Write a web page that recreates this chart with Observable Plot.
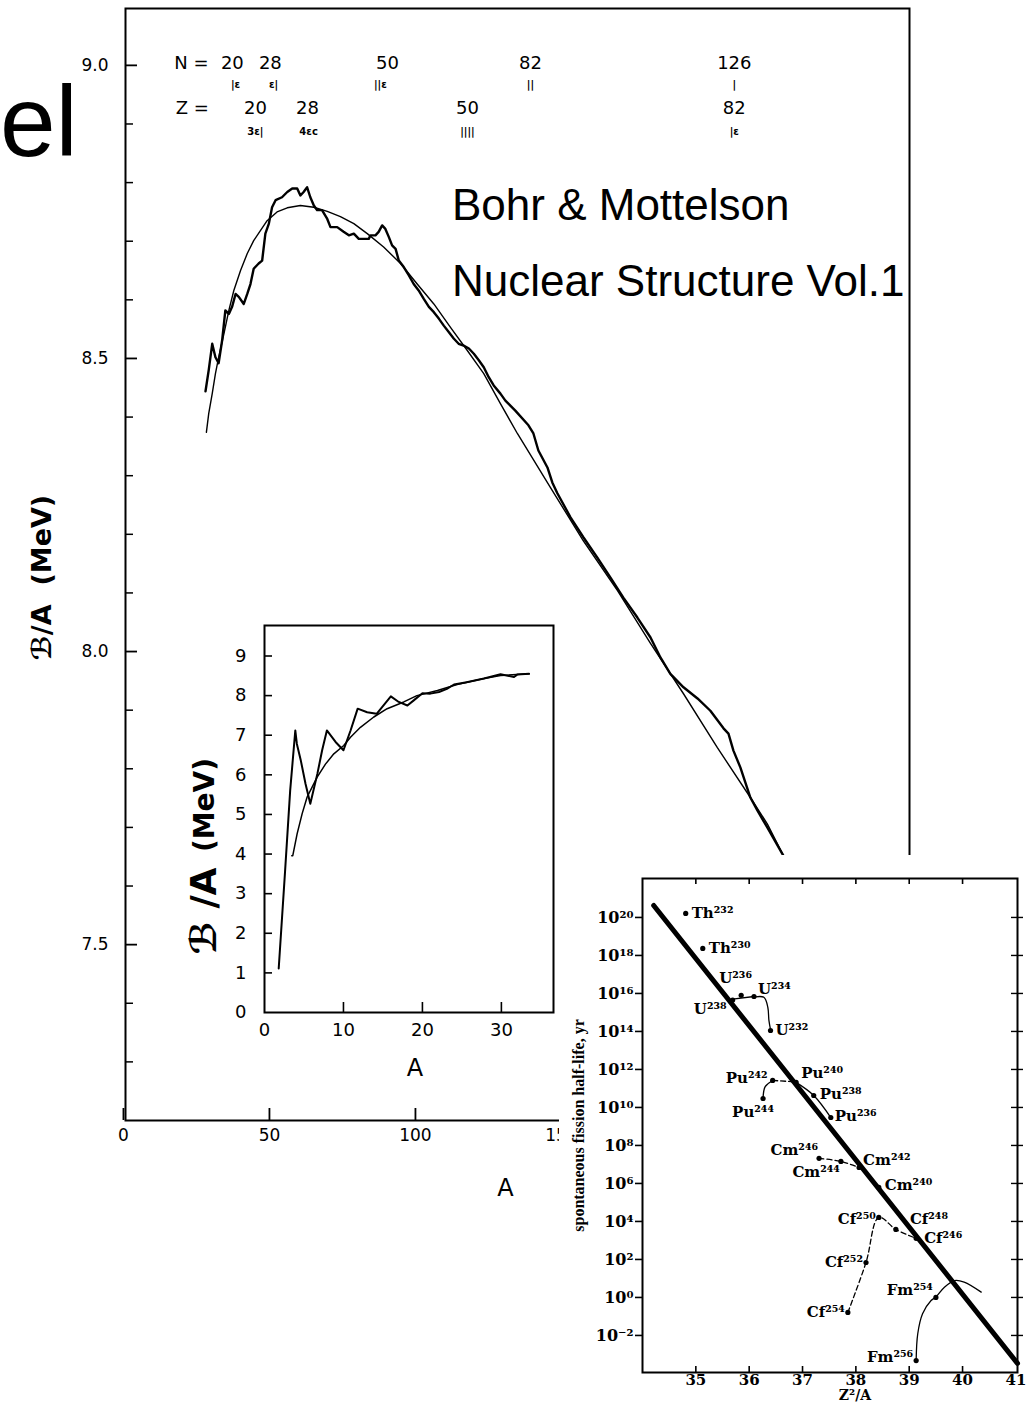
<!DOCTYPE html>
<html><head><meta charset="utf-8">
<script src="https://cdn.jsdelivr.net/npm/d3@7"></script>
<script src="https://cdn.jsdelivr.net/npm/@observablehq/plot@0.6"></script>
<style>
body{margin:0;background:#fff;}
#wrap{position:relative;width:1029px;height:1408px;overflow:hidden;background:#fff;}
#wrap svg{position:absolute;}
.note{position:absolute;font-family:"Liberation Sans",Arial,sans-serif;color:#000;white-space:nowrap;line-height:1;}
</style></head><body><div id="wrap"></div>
<script>
// ---------------- Main chart: binding energy per nucleon vs A ----------------
const mainExpA = [28.1,29.2,30.4,31.5,32.6,33.8,34.9,36.1,37.2,38.4,39.5,41.2,42.4,43.5,44.6,46.3,47.5,48.6,49.8,50.9,52.1,54.3,56.1,57.8,59.5,60.6,61.7,62.9,64.0,65.2,66.3,68.0,69.8,70.9,73.2,75.4,77.2,78.9,80.6,84.0,84.6,86.3,87.4,88.6,89.7,90.9,92.0,93.2,94.3,96.0,97.7,99.4,101.1,102.8,104.6,106.3,108.0,109.7,111.4,113.1,114.8,116.5,118.3,120.0,121.7,123.4,125.1,126.8,129.1,130.8,134.2,138.7,140.4,142.1,145.2,146.9,148.6,153.1,157.5,162.3,166.8,171.2,176.0,180.5,183.9,187.3,191.8,196.6,201.0,205.5,207.2,208.9,211.3,214.7,217.1,220.5,226.0];
const mainExpB = [8.444,8.480,8.525,8.502,8.492,8.531,8.582,8.576,8.588,8.610,8.605,8.593,8.610,8.627,8.653,8.662,8.667,8.713,8.730,8.758,8.770,8.775,8.784,8.790,8.790,8.778,8.784,8.792,8.775,8.761,8.753,8.753,8.738,8.724,8.724,8.716,8.710,8.713,8.704,8.704,8.710,8.710,8.716,8.727,8.721,8.707,8.693,8.687,8.667,8.656,8.642,8.627,8.616,8.602,8.588,8.579,8.568,8.556,8.545,8.534,8.525,8.522,8.517,8.508,8.497,8.485,8.468,8.454,8.440,8.428,8.411,8.386,8.372,8.343,8.314,8.288,8.270,8.229,8.195,8.160,8.126,8.092,8.058,8.024,7.990,7.962,7.939,7.920,7.899,7.869,7.860,7.831,7.802,7.751,7.729,7.700,7.652];
const mainFitA = [28.4,29.2,30.4,31.5,32.6,34.4,36.1,37.8,40.1,42.4,44.6,46.9,49.2,52.6,56.1,60.6,65.2,69.8,74.3,78.9,83.5,89.1,94.9,100.6,106.3,112.0,117.7,123.4,129.1,134.9,146.2,157.5,169.2,180.5,191.8,203.4,214.7,220.5,226.0];
const mainFitB = [8.374,8.406,8.440,8.474,8.502,8.542,8.582,8.616,8.650,8.679,8.701,8.718,8.735,8.750,8.757,8.761,8.758,8.751,8.742,8.730,8.713,8.690,8.662,8.627,8.593,8.553,8.514,8.474,8.423,8.372,8.280,8.189,8.104,8.014,7.928,7.836,7.751,7.706,7.652];
const mainYMajor = [7.5, 8.0, 8.5, 9.0];
const mainYMinor = [7.3, 7.4, 7.6, 7.7, 7.8, 7.9, 8.1, 8.2, 8.3, 8.4, 8.6, 8.7, 8.8, 8.9];
const mainXTicks = [0, 50, 100, 150, 200, 250];
// magic-number annotations
const magicNLabels = ["N =", "20", "28", "50", "82", "126"];
const magicNA = [23.3, 37.3, 50.3, 90.4, 139.4, 209.2];
const magicNMarks = ["|ε", "ε|", "||ε", "||", "|"];
const magicNMarkA = [38.4, 51.4, 88.0, 139.4, 209.2];
const magicZLabels = ["Z =", "20", "28", "50", "82"];
const magicZA = [23.6, 45.2, 63.0, 117.8, 209.2];
const magicZMarks = ["3ε|", "4εc", "||||", "|ε"];
const magicZMarkA = [45.2, 63.4, 117.8, 209.2];
const magicRowB = [9.003, 8.966, 8.927, 8.886];

// ---------------- Inset 1: light nuclei ----------------
const inExpA = [1.8,2.6,3.25,3.9,4.1,4.6,5.2,5.8,6.7,7.3,7.9,9.0,10.0,10.9,11.8,13.0,14.2,16.0,17.0,18.1,18.9,20.0,21.0,22.1,23.1,24.0,25.6,27.8,29.9,31.6,32.0,33.5];
const inExpB = [1.11,3.55,5.6,7.12,6.78,6.36,5.77,5.27,6.03,6.62,7.12,6.83,6.62,7.12,7.67,7.58,7.54,7.98,7.84,7.75,7.88,8.06,8.05,8.09,8.17,8.28,8.34,8.43,8.54,8.47,8.53,8.55];
const inFitA = [3.45,3.58,4.13,4.77,5.40,6.03,6.67,7.72,8.78,10.04,10.89,12.15,13.84,15.53,17.64,19.3,21.9,24.4,27.8,29.9,33.5];
const inFitB = [3.96,3.96,4.51,5.02,5.44,5.69,5.94,6.27,6.53,6.74,6.95,7.2,7.46,7.67,7.84,8.0,8.13,8.28,8.43,8.51,8.55];
const inYTicks = [0,1,2,3,4,5,6,7,8,9];
const inXTicks = [0,10,20,30];

// ---------------- Inset 2: spontaneous fission half-life ----------------
const fisLineX = [34.21, 41.03];
const fisLineLog = [20.63, -3.47];
const nucElem = ["Th","Th","U","U","U","U","Pu","Pu","Pu","Pu","Pu","Cm","Cm","Cm","Cm","Cf","Cf","Cf","Cf","Cf","Fm","Fm"];
const nucMass = [232,230,238,236,234,232,242,240,238,236,244,246,244,242,240,250,248,246,252,254,254,256];
const nucX = [34.81,35.13,35.69,35.85,36.09,36.40,36.44,36.88,37.21,37.53,36.26,37.31,37.72,38.06,38.43,38.43,38.75,39.13,38.19,37.85,39.50,39.13];
const nucLog = [20.21,18.37,15.65,15.9,15.84,14.05,11.42,11.32,10.63,9.47,10.47,7.32,7.16,6.84,5.79,4.21,3.58,3.11,1.84,-0.79,0.0,-3.32];
const linkU = {x:[35.69,36.09], y:[15.7,15.84]};
const linkU2 = {x:[36.12,36.28,36.35,36.37,36.40], y:[15.82,15.79,15.26,14.58,14.1]};
const linkPu = {x:[36.44,36.85], y:[11.42,11.35]};
const linkPu2 = {x:[36.26,36.30,36.42], y:[10.5,11.1,11.38]};
const linkPu3 = {x:[36.88,37.21,37.53], y:[11.32,10.63,9.47]};
const linkCm = {x:[37.31,37.72,38.06], y:[7.32,7.16,6.84]};
const linkCf = {x:[37.85,38.19,38.43,38.75,39.13], y:[-0.79,1.84,4.21,3.58,3.11]};
const linkFm = {x:[39.13,39.16,39.25,39.41,39.50,39.66,39.85,40.03,40.35], y:[-3.32,-1.91,-0.86,-0.16,0.02,0.54,0.89,0.81,0.28]};
const fisXTicks = [35,36,37,38,39,40,41];
const fisYTicks = [-2,0,2,4,6,8,10,12,14,16,18,20];

// label placement (style only): [textAnchor, dx, dy]
const labelPlace = [["start",6,0],["start",6,0],["end",-6,9],["start",-22,-17],["start",4,-7],["start",5,0],
  ["end",-5,-2],["start",5,-9],["start",6,-1],["start",4,-1],["middle",-10,14],
  ["end",-1,-8],["end",-1,11],["start",4,-7],["start",6,-2],
  ["end",-3,2],["start",14,-10],["start",8,0],["end",-3,0],["end",-3,0],["end",-3,-7],["end",-3,-3]];

const supMap = {"0":"⁰","1":"¹","2":"²","3":"³","4":"⁴","5":"⁵","6":"⁶","7":"⁷","8":"⁸","9":"⁹","-":"⁻"};
const toSup = s => String(s).split("").map(c => supMap[c]).join("");
const zip = (xs, ys, kx, ky) => xs.map((v, i) => ({[kx]: v, [ky]: ys[i]}));

const wrap = document.getElementById("wrap");

// ---------- main ----------
{
  const W = 1029, H = 1220, mL = 125, mR = 120, mT = 8, mB = 100;
  const iW = W - mL - mR, iH = H - mT - mB;
  const exp = zip(mainExpA, mainExpB, "A", "B");
  const fit = zip(mainFitA, mainFitB, "A", "B");
  const sans = "DejaVu Sans, sans-serif";
  const svg = Plot.plot({
    width: W, height: H, marginLeft: mL, marginRight: mR, marginTop: mT, marginBottom: mB,
    x: {domain: [0.7, 269.2], axis: null},
    y: {domain: [7.2, 9.097], axis: null},
    style: {fontFamily: sans, background: "transparent", overflow: "visible", color: "black"},
    marks: [
      Plot.ruleY(mainYMajor, {y: d => d, insetRight: iW - 12, strokeWidth: 1.8}),
      Plot.ruleY(mainYMinor, {y: d => d, insetRight: iW - 8, strokeWidth: 1.5}),
      Plot.ruleX(mainXTicks, {x: d => d, insetTop: iH - 12, strokeWidth: 1.8}),
      Plot.frame({stroke: "black", strokeWidth: 2}),
      Plot.line(fit, {x: "A", y: "B", stroke: "black", strokeWidth: 1.4}),
      Plot.line(exp, {x: "A", y: "B", stroke: "black", strokeWidth: 2.4}),
      Plot.text(mainYMajor, {y: d => d, text: d => d.toFixed(1), frameAnchor: "left", dx: -17, textAnchor: "end", fontSize: 17}),
      Plot.text(mainXTicks, {x: d => d, text: d => String(d), frameAnchor: "bottom", dy: 20, fontSize: 17}),
      Plot.text(["A"], {text: d => d, frameAnchor: "bottom", dx: -12, dy: 75, fontSize: 24}),
      Plot.text(["ℬ/A  (MeV)"], {text: d => d, frameAnchor: "left", textAnchor: "middle", dx: -83, dy: 13, rotate: -90, fontSize: 27, fontWeight: "bold"}),
      Plot.text(magicNLabels, {x: (d, i) => magicNA[i], y: () => magicRowB[0], text: d => d, fontSize: 18}),
      Plot.text(magicNMarks, {x: (d, i) => magicNMarkA[i], y: () => magicRowB[1], text: d => d, fontSize: 10, fontWeight: "bold"}),
      Plot.text(magicZLabels, {x: (d, i) => magicZA[i], y: () => magicRowB[2], text: d => d, fontSize: 18}),
      Plot.text(magicZMarks, {x: (d, i) => magicZMarkA[i], y: () => magicRowB[3], text: d => d, fontSize: 10, fontWeight: "bold"})
    ]
  });
  svg.style.left = "0px"; svg.style.top = "0px";
  wrap.appendChild(svg);
}

// ---------- notes ----------
function note(text, css) {
  const d = document.createElement("div");
  d.className = "note";
  d.textContent = text;
  Object.assign(d.style, css);
  wrap.appendChild(d);
}
note("el", {left: "0px", top: "71px", fontSize: "100px"});
note("Bohr & Mottelson", {left: "452px", top: "183px", fontSize: "44px"});
note("Nuclear Structure Vol.1", {left: "452px", top: "259px", fontSize: "44px"});

// ---------- inset 1 ----------
{
  const W = 380, H = 480, mL = 84, mR = 7, mT = 10, mB = 83;
  const iW = W - mL - mR, iH = H - mT - mB;
  const exp = zip(inExpA, inExpB, "A", "B");
  const fit = zip(inFitA, inFitB, "A", "B");
  const svg = Plot.plot({
    width: W, height: H, marginLeft: mL, marginRight: mR, marginTop: mT, marginBottom: mB,
    x: {domain: [0, 36.6], axis: null},
    y: {domain: [0, 9.77], axis: null},
    style: {fontFamily: "DejaVu Sans, sans-serif", background: "white", overflow: "visible", color: "black"},
    marks: [
      Plot.ruleY(inYTicks.slice(1), {y: d => d, insetRight: iW - 8, strokeWidth: 1.6}),
      Plot.ruleX([10, 20, 30], {x: d => d, insetTop: iH - 10, strokeWidth: 1.6}),
      Plot.frame({stroke: "black", strokeWidth: 2}),
      Plot.line(fit, {x: "A", y: "B", stroke: "black", strokeWidth: 1.5}),
      Plot.line(exp, {x: "A", y: "B", stroke: "black", strokeWidth: 2}),
      Plot.text(inYTicks, {y: d => d, text: d => String(d), frameAnchor: "left", dx: -18, textAnchor: "end", fontSize: 18}),
      Plot.text(inXTicks, {x: d => d, text: d => String(d), frameAnchor: "bottom", dy: 23, fontSize: 18}),
      Plot.text(["A"], {text: d => d, frameAnchor: "bottom", dx: 6, dy: 63, fontSize: 24}),
      Plot.text(["(MeV)"], {text: d => d, frameAnchor: "left", textAnchor: "middle", dx: -59, dy: -14, rotate: -90, fontSize: 28, fontWeight: "bold"}),
      Plot.text(["ℬ /A"], {text: d => d, frameAnchor: "left", textAnchor: "middle", dx: -60, dy: 92, rotate: -90, fontSize: 36, fontWeight: "bold"})
    ]
  });
  svg.style.left = "180px"; svg.style.top = "615px";
  wrap.appendChild(svg);
}

// ---------- inset 2 ----------
{
  const W = 470, H = 553, mL = 83, mR = 12, mT = 23, mB = 36;
  const iW = W - mL - mR, iH = H - mT - mB;
  const serif = "DejaVu Serif, serif";
  const thick = zip(fisLineX, fisLineLog, "x", "y");
  const links = [[linkU, false], [linkU2, false], [linkPu, true], [linkPu2, false], [linkPu3, false], [linkCm, true], [linkCf, true], [linkFm, false]];
  const nuclides = nucElem.map((e, i) => ({name: e + toSup(nucMass[i]), x: nucX[i], y: nucLog[i], i}));
  const svg = Plot.plot({
    width: W, height: H, marginLeft: mL, marginRight: mR, marginTop: mT, marginBottom: mB,
    x: {domain: [34.0, 41.03], axis: null},
    y: {domain: [-3.95, 22.05], axis: null},
    style: {fontFamily: serif, background: "white", overflow: "visible", color: "black"},
    marks: [
      Plot.ruleY(fisYTicks, {y: d => d, insetLeft: -7, insetRight: iW, strokeWidth: 1.6}),
      Plot.ruleY(fisYTicks, {y: d => d, insetLeft: iW - 6, insetRight: -6, strokeWidth: 1.4}),
      Plot.ruleX(fisXTicks.slice(0, 6), {x: d => d, insetTop: iH - 6, strokeWidth: 1.6}),
      Plot.ruleX(fisXTicks.slice(0, 6), {x: d => d, insetBottom: iH - 6, strokeWidth: 1.6}),
      Plot.frame({stroke: "black", strokeWidth: 2}),
      Plot.line(thick, {x: "x", y: "y", stroke: "black", strokeWidth: 5}),
      ...links.map(([l, dashed]) => Plot.line(zip(l.x, l.y, "x", "y"), {x: "x", y: "y", stroke: "black", strokeWidth: 1.3, strokeDasharray: dashed ? "5,3" : null, curve: "catmull-rom"})),
      Plot.dot(nuclides, {x: "x", y: "y", r: 2.6, fill: "black"}),
      ...nuclides.map((n, i) => Plot.text([n], {x: "x", y: "y", text: "name", textAnchor: labelPlace[i][0], dx: labelPlace[i][1], dy: labelPlace[i][2], fontSize: 15, fontWeight: "bold"})),
      Plot.text(fisYTicks, {y: d => d, text: d => "10" + toSup(d), frameAnchor: "left", dx: -9, textAnchor: "end", fontSize: 16, fontWeight: "bold"}),
      Plot.text(fisXTicks, {x: d => d, text: d => String(d), frameAnchor: "bottom", dy: 12, fontSize: 15, fontWeight: "bold"}),
      Plot.text(["Z²/A"], {text: d => d, frameAnchor: "bottom", dx: 25, dy: 27, fontSize: 14, fontWeight: "bold"}),
      Plot.text(["spontaneous fission half-life, yr"], {text: d => d, frameAnchor: "left", textAnchor: "middle", dx: -64, dy: 0, rotate: -90, fontSize: 16, fontWeight: "bold", fontFamily: "Liberation Serif, serif"})
    ]
  });
  svg.style.left = "559px"; svg.style.top = "855px";
  wrap.appendChild(svg);
}
</script></body></html>
